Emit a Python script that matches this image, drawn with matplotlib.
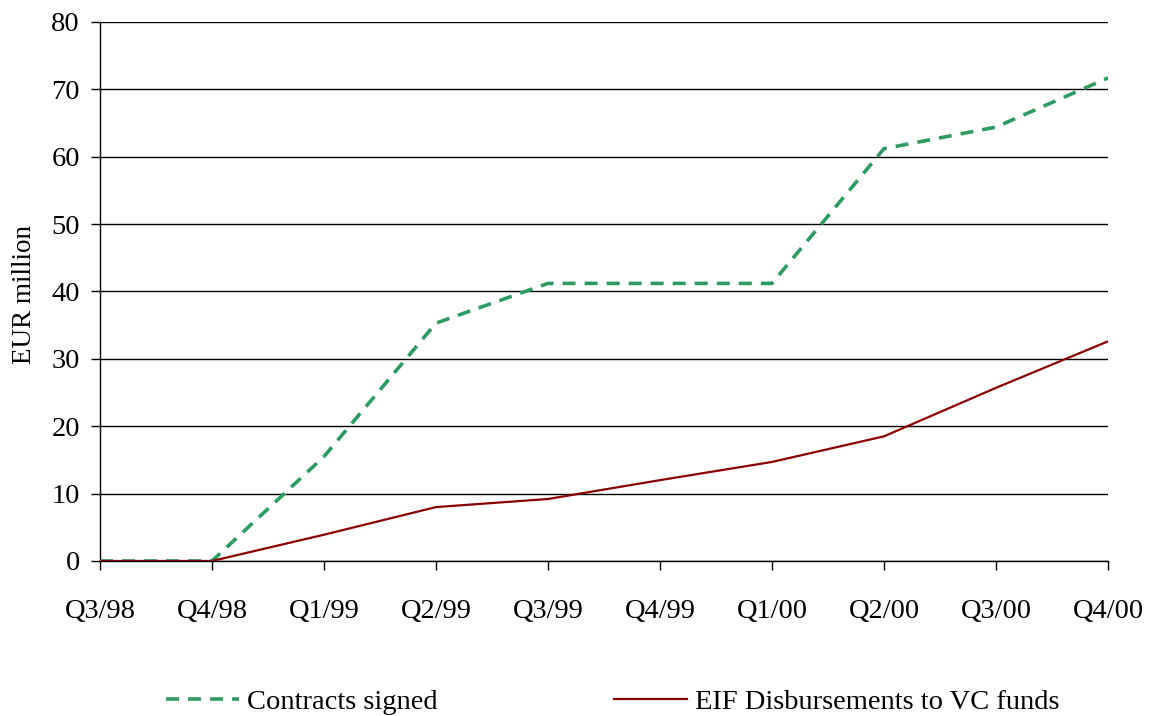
import numpy as np
import matplotlib
matplotlib.use("Agg")
import matplotlib.pyplot as plt

quarters = ["Q3/98", "Q4/98", "Q1/99", "Q2/99", "Q3/99", "Q4/99", "Q1/00", "Q2/00", "Q3/00", "Q4/00"]
contracts = [0, 0, 15.5, 35.3, 41.2, 41.2, 41.2, 61.2, 64.4, 71.7]
disbursements = [0, 0, 3.9, 8.0, 9.2, 12.0, 14.7, 18.5, 25.7, 32.6]

plt.rcParams['font.family'] = ['Liberation Serif', 'DejaVu Serif']

fig = plt.figure(figsize=(11.52, 7.16), dpi=100)
ax = fig.add_axes([0.0868, 0.2165, 0.875, 0.7528])

x = np.arange(len(quarters))
ax.plot(x, contracts, color='#2E9B62', lw=2.6, dashes=(3.6, 2.5), label='Contracts signed', zorder=2)
ax.plot(x, disbursements, color='#8B0000', lw=1.6, label='EIF Disbursements to VC funds', zorder=3)

ax.set_xlim(0, len(quarters) - 1)
ax.set_ylim(0, 80)
ax.set_yticks(range(0, 81, 10))
ax.set_xticks(x)
ax.set_xticklabels(quarters)
ax.grid(axis='y', color='black', lw=1)
ax.set_axisbelow(True)
for s in ['top', 'right']:
    ax.spines[s].set_visible(False)
ax.spines['left'].set_linewidth(1)
ax.spines['bottom'].set_linewidth(1)
ax.tick_params(axis='both', labelsize=20.5, length=6.5, width=1, direction='out')
ax.tick_params(axis='y', pad=8)
ax.tick_params(axis='x', pad=21)
ax.set_ylabel('EUR million', fontsize=19.5)
ax.yaxis.set_label_coords(-0.062, 0.494)

fig.legend(loc='lower center', bbox_to_anchor=(0.532, -0.035), ncol=2, frameon=False,
           fontsize=20.5, handlelength=2.56, handletextpad=0.28, columnspacing=6.2)

fig.savefig('out.png', dpi=100)
